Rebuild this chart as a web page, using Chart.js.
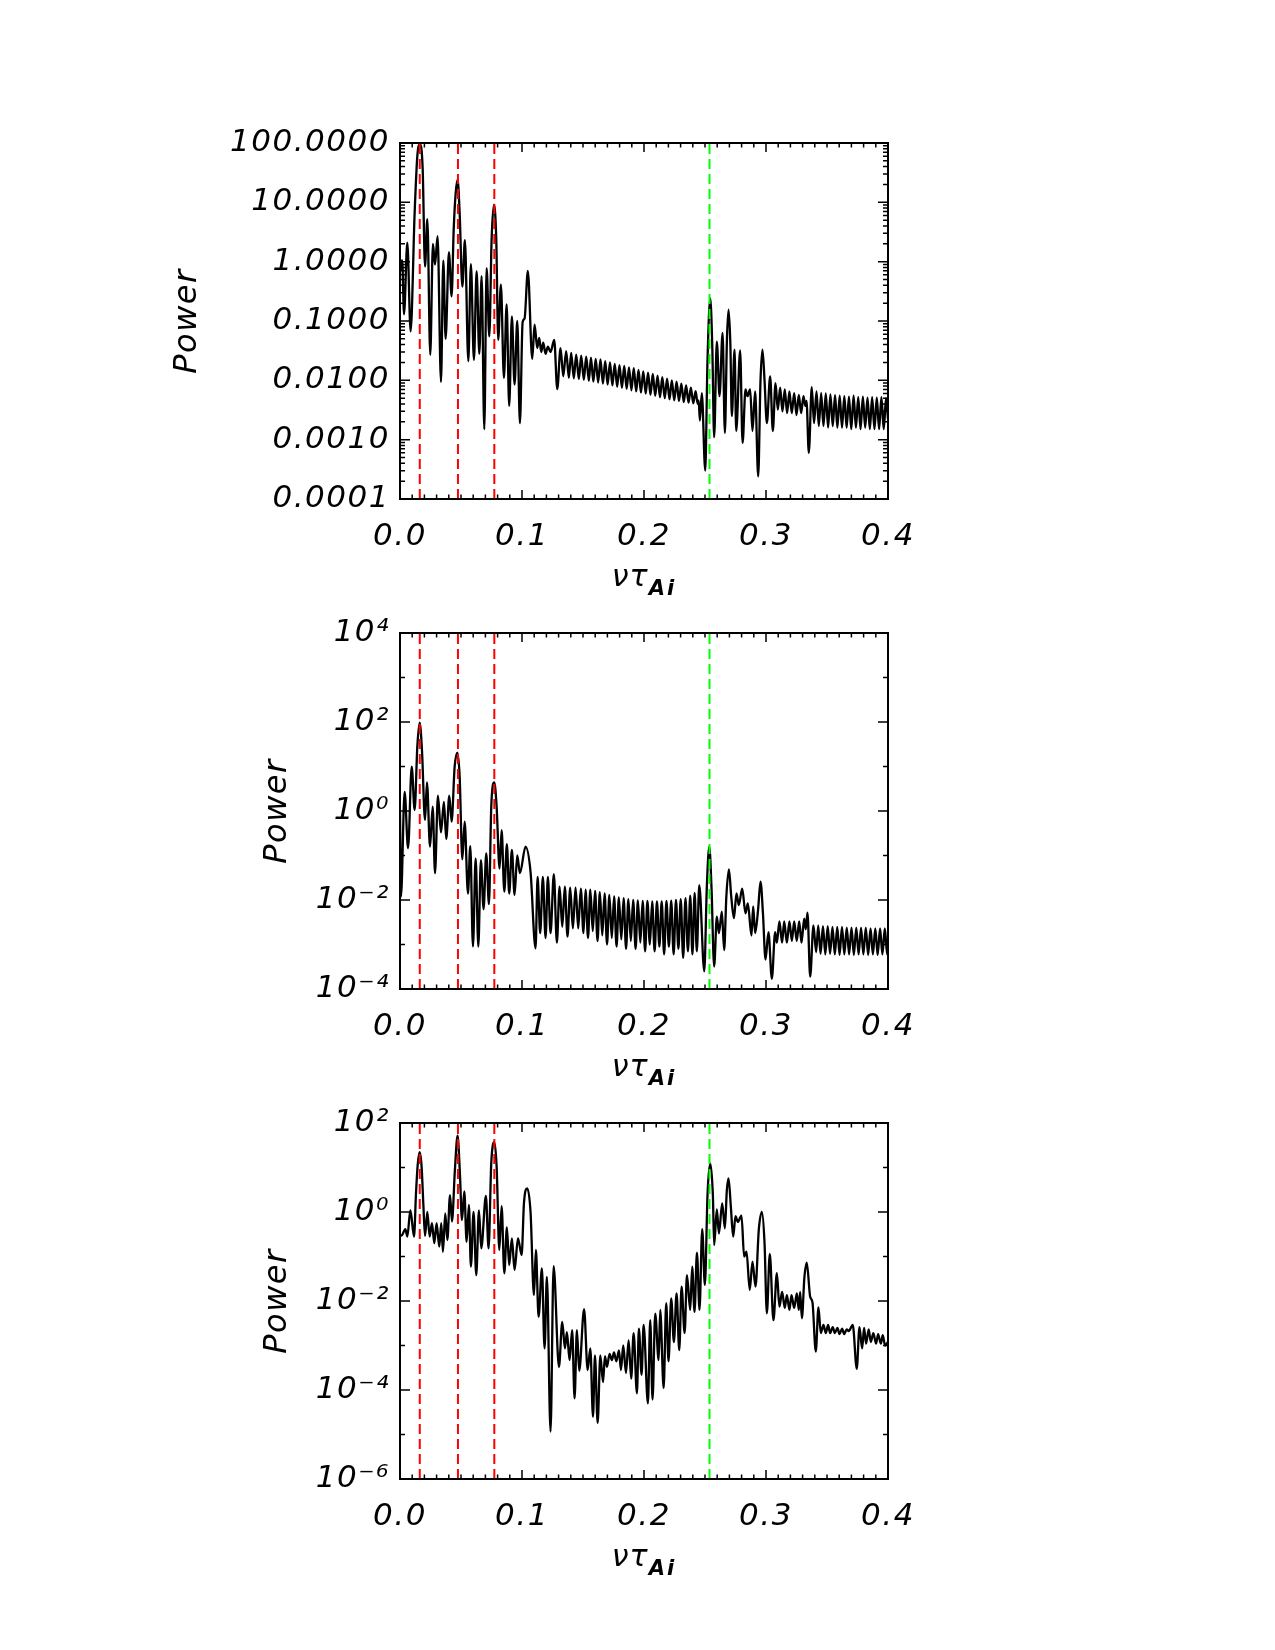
<!DOCTYPE html>
<html>
<head>
<meta charset="utf-8">
<title>Power spectra</title>
<script src="https://cdn.jsdelivr.net/npm/chart.js@4.4.1/dist/chart.umd.min.js"></script>
<style>
  body { margin: 0; background: #fff; }
  #page { position: relative; width: 1275px; height: 1650px; }
  canvas { position: absolute; left: 0; }
  .xlab { position: absolute; left: 544px; width: 200px; text-align: center;
          font: italic 30px 'DejaVu Sans'; letter-spacing: 1px; line-height: 30px; color: #000; }
  .xlab sub { font-size: 21px; font-weight: bold; vertical-align: -9px; letter-spacing: 2px; }
</style>
</head>
<body>
<div id="page">
  <canvas id="panel1" width="1275" height="470" style="top:100px"></canvas>
  <canvas id="panel2" width="1275" height="470" style="top:590px"></canvas>
  <canvas id="panel3" width="1275" height="470" style="top:1080px"></canvas>
  <div class="xlab" style="top:561px">ντ<sub>Ai</sub></div>
  <div class="xlab" style="top:1051px">ντ<sub>Ai</sub></div>
  <div class="xlab" style="top:1541px">ντ<sub>Ai</sub></div>
</div>
<script>
// x axis labels and marker frequencies
const freqLabels = ['0.0', '0.1', '0.2', '0.3', '0.4'];
const redLines = [0.0162, 0.0475, 0.0773];
const greenLine = 0.2537;

// decades shown on each power axis (exponents of ten)
const p1Decades = [-4, -3, -2, -1, 0, 1, 2];
const p2Decades = [-4, -3, -2, -1, 0, 1, 2, 3, 4];
const p3Decades = [-6, -5, -4, -3, -2, -1, 0, 1, 2];

// top panel
const p1Freq = [
  0.0000, 0.0011, 0.0018, 0.0033, 0.0060, 0.0087, 0.0120, 0.0142, 0.0164, 0.0186,
  0.0205, 0.0224, 0.0248, 0.0270, 0.0287, 0.0308, 0.0336, 0.0355, 0.0374, 0.0401,
  0.0423, 0.0440, 0.0456, 0.0472, 0.0489, 0.0511, 0.0532, 0.0560, 0.0581, 0.0606,
  0.0628, 0.0650, 0.0669, 0.0691, 0.0710, 0.0732, 0.0751, 0.0770, 0.0789, 0.0805,
  0.0827, 0.0852, 0.0874, 0.0895, 0.0917, 0.0939, 0.0961, 0.0983, 0.1005, 0.1021,
  0.1048, 0.1084, 0.1103, 0.1125, 0.1141, 0.1158, 0.1174, 0.1193, 0.1212, 0.1234,
  0.1264, 0.1289, 0.1316, 0.1338, 0.1362, 0.1384, 0.1403, 0.1425, 0.1444, 0.1466,
  0.1485, 0.1507, 0.1526, 0.1548, 0.1565, 0.1585, 0.1604, 0.1624, 0.1643, 0.1663,
  0.1682, 0.1702, 0.1721, 0.1741, 0.1760, 0.1780, 0.1799, 0.1819, 0.1838, 0.1858,
  0.1877, 0.1897, 0.1916, 0.1936, 0.1955, 0.1975, 0.1994, 0.2014, 0.2033, 0.2053,
  0.2072, 0.2092, 0.2111, 0.2131, 0.2150, 0.2170, 0.2189, 0.2209, 0.2228, 0.2248,
  0.2267, 0.2287, 0.2306, 0.2326, 0.2345, 0.2365, 0.2384, 0.2404, 0.2423, 0.2440,
  0.2448, 0.2458, 0.2474, 0.2502, 0.2520, 0.2543, 0.2560, 0.2575, 0.2597, 0.2619,
  0.2644, 0.2663, 0.2680, 0.2693, 0.2708, 0.2720, 0.2742, 0.2756, 0.2788, 0.2808,
  0.2832, 0.2848, 0.2870, 0.2889, 0.2911, 0.2936, 0.2955, 0.2971, 0.2988, 0.3007,
  0.3034, 0.3056, 0.3078, 0.3097, 0.3116, 0.3135, 0.3154, 0.3173, 0.3192, 0.3211,
  0.3231, 0.3250, 0.3269, 0.3288, 0.3307, 0.3323, 0.3332, 0.3351, 0.3375, 0.3394,
  0.3414, 0.3433, 0.3452, 0.3471, 0.3490, 0.3509, 0.3528, 0.3547, 0.3566, 0.3585,
  0.3604, 0.3623, 0.3642, 0.3661, 0.3680, 0.3699, 0.3718, 0.3737, 0.3756, 0.3775,
  0.3794, 0.3813, 0.3832, 0.3851, 0.3870, 0.3889, 0.3908, 0.3927, 0.3946, 0.3965,
  0.3984, 0.4000
];
const p1Power = [
  1.1, 0.75, 1.05, 0.13, 2.1, 0.067, 6.6, 60, 95, 36,
  0.83, 5.2, 0.027, 2.0, 0.89, 2.7, 0.0094, 1.04, 0.050, 1.44,
  0.26, 3.4, 14, 24, 6.6, 0.38, 2.3, 0.021, 0.91, 0.022,
  0.69, 0.028, 0.57, 0.0015, 0.78, 0.055, 2.4, 9.1, 2.4, 0.048,
  0.41, 0.011, 0.19, 0.0037, 0.12, 0.0085, 0.10, 0.0019, 0.095, 0.11,
  0.70, 0.023, 0.087, 0.035, 0.052, 0.030, 0.043, 0.028, 0.037, 0.030,
  0.048, 0.0071, 0.035, 0.0117, 0.031, 0.011, 0.029, 0.0108, 0.027, 0.0105,
  0.026, 0.0102, 0.025, 0.0098, 0.024, 0.0095, 0.023, 0.0092, 0.0225, 0.0088,
  0.021, 0.0085, 0.020, 0.0082, 0.019, 0.0078, 0.018, 0.0075, 0.0175, 0.0072,
  0.0165, 0.0068, 0.016, 0.0065, 0.015, 0.0062, 0.0142, 0.0060, 0.0135, 0.0057,
  0.0128, 0.0055, 0.012, 0.0052, 0.0113, 0.0050, 0.0107, 0.0048, 0.010, 0.0046,
  0.0095, 0.0045, 0.0088, 0.0043, 0.0082, 0.0042, 0.0075, 0.0041, 0.0066, 0.0040,
  0.0046, 0.0021, 0.0061, 0.0003, 0.02, 0.24, 0.035, 0.0011, 0.045, 0.0054,
  0.063, 0.0013, 0.05, 0.155, 0.04, 0.0025, 0.033, 0.0014, 0.032, 0.00088,
  0.0070, 0.0054, 0.0070, 0.0014, 0.0065, 0.00024, 0.010, 0.033, 0.010, 0.0019,
  0.0117, 0.0014, 0.009, 0.0032, 0.0075, 0.0030, 0.0070, 0.0028, 0.0065, 0.0028,
  0.0061, 0.0026, 0.0057, 0.0028, 0.0054, 0.0037, 0.0045, 0.0006, 0.0077, 0.0019,
  0.0065, 0.0017, 0.0061, 0.0017, 0.0060, 0.0016, 0.0058, 0.0017, 0.0056, 0.0016,
  0.0055, 0.0016, 0.0054, 0.0016, 0.0053, 0.0015, 0.0055, 0.0016, 0.0052, 0.0015,
  0.0053, 0.0016, 0.0051, 0.0015, 0.0052, 0.0015, 0.0051, 0.0015, 0.0052, 0.0015,
  0.0050, 0.0022
];

// middle panel
const p2Freq = [
  0.0000, 0.0008, 0.0038, 0.0066, 0.0096, 0.0120, 0.0142, 0.0161, 0.0180, 0.0205,
  0.0221, 0.0246, 0.0268, 0.0287, 0.0311, 0.0336, 0.0360, 0.0379, 0.0404, 0.0423,
  0.0448, 0.0470, 0.0489, 0.0511, 0.0530, 0.0557, 0.0576, 0.0598, 0.0620, 0.0642,
  0.0663, 0.0685, 0.0707, 0.0729, 0.0748, 0.0773, 0.0792, 0.0816, 0.0833, 0.0855,
  0.0876, 0.0895, 0.0917, 0.0939, 0.0961, 0.0983, 0.1029, 0.1070, 0.1111, 0.1128,
  0.1149, 0.1171, 0.1193, 0.1212, 0.1234, 0.1261, 0.1286, 0.1308, 0.1330, 0.1351,
  0.1373, 0.1395, 0.1417, 0.1439, 0.1461, 0.1482, 0.1504, 0.1521, 0.1541, 0.1560,
  0.1580, 0.1599, 0.1619, 0.1638, 0.1658, 0.1677, 0.1697, 0.1716, 0.1736, 0.1755,
  0.1775, 0.1794, 0.1814, 0.1833, 0.1853, 0.1872, 0.1892, 0.1911, 0.1931, 0.1950,
  0.1970, 0.1989, 0.2009, 0.2028, 0.2048, 0.2067, 0.2087, 0.2106, 0.2126, 0.2145,
  0.2165, 0.2184, 0.2204, 0.2223, 0.2243, 0.2262, 0.2282, 0.2301, 0.2321, 0.2340,
  0.2360, 0.2379, 0.2397, 0.2415, 0.2433, 0.2453, 0.2494, 0.2515, 0.2535, 0.2553,
  0.2575, 0.2597, 0.2614, 0.2638, 0.2657, 0.2675, 0.2696, 0.2715, 0.2737, 0.2758,
  0.2777, 0.2805, 0.2832, 0.2851, 0.2881, 0.2895, 0.2911, 0.2935, 0.2955, 0.2975,
  0.2996, 0.3020, 0.3048, 0.3075, 0.3089, 0.3110, 0.3132, 0.3149, 0.3171, 0.3192,
  0.3212, 0.3231, 0.3252, 0.3272, 0.3291, 0.3313, 0.3326, 0.3340, 0.3362, 0.3389,
  0.3411, 0.3428, 0.3447, 0.3467, 0.3486, 0.3506, 0.3525, 0.3545, 0.3564, 0.3584,
  0.3603, 0.3623, 0.3642, 0.3662, 0.3681, 0.3701, 0.3720, 0.3740, 0.3759, 0.3779,
  0.3798, 0.3818, 0.3837, 0.3857, 0.3876, 0.3896, 0.3915, 0.3935, 0.3954, 0.3974,
  0.3993, 0.4000
];
const p2Power = [
  1.0, 0.012, 2.7, 0.145, 9.9, 1.05, 28, 97, 23.5, 0.63,
  4.4, 0.158, 1.25, 0.040, 2.2, 0.33, 1.6, 0.235, 2.2, 0.575,
  9.9, 20.5, 5.9, 0.082, 0.575, 0.014, 0.163, 0.0009, 0.086, 0.0009,
  0.079, 0.0062, 0.112, 0.0081, 1.25, 4.4, 1.25, 0.051, 0.37, 0.0154,
  0.18, 0.014, 0.133, 0.013, 0.10, 0.040, 0.158, 0.043, 0.00082, 0.033,
  0.0018, 0.033, 0.0014, 0.033, 0.0018, 0.038, 0.0011, 0.020, 0.0025, 0.020,
  0.0015, 0.019, 0.0023, 0.019, 0.0023, 0.018, 0.0018, 0.017, 0.0014, 0.017,
  0.0020, 0.016, 0.0012, 0.015, 0.0016, 0.014, 0.0010, 0.013, 0.0014, 0.012,
  0.0009, 0.0115, 0.0013, 0.011, 0.0008, 0.0105, 0.0012, 0.010, 0.0008, 0.0098,
  0.0011, 0.0095, 0.0007, 0.0095, 0.0010, 0.0093, 0.0007, 0.0093, 0.0009, 0.0093,
  0.0006, 0.0095, 0.0009, 0.0097, 0.0006, 0.010, 0.0008, 0.0105, 0.0005, 0.011,
  0.0007, 0.0125, 0.0006, 0.0145, 0.0007, 0.0215, 0.00025, 0.020, 0.158, 0.020,
  0.00032, 0.0042, 0.0018, 0.0055, 0.00075, 0.012, 0.049, 0.012, 0.0039, 0.014,
  0.0077, 0.018, 0.005, 0.0084, 0.0016, 0.0072, 0.0018, 0.006, 0.026, 0.005,
  0.00046, 0.0019, 0.00017, 0.0019, 0.0011, 0.0033, 0.0011, 0.0033, 0.0011, 0.0033,
  0.0012, 0.0033, 0.0012, 0.0033, 0.0011, 0.0038, 0.0022, 0.0052, 0.00019, 0.0027,
  0.00067, 0.0027, 0.00062, 0.0026, 0.0006, 0.0026, 0.00062, 0.0025, 0.0006, 0.0025,
  0.00058, 0.0025, 0.0006, 0.0024, 0.0006, 0.0024, 0.00058, 0.0024, 0.0006, 0.0024,
  0.0006, 0.0024, 0.00058, 0.0023, 0.0006, 0.0023, 0.00058, 0.0023, 0.0006, 0.0023,
  0.0006, 0.0010
];

// bottom panel
const p3Freq = [
  0.0000, 0.0016, 0.0044, 0.0060, 0.0085, 0.0115, 0.0131, 0.0145, 0.0161, 0.0177,
  0.0191, 0.0205, 0.0224, 0.0243, 0.0262, 0.0281, 0.0300, 0.0322, 0.0338, 0.0352,
  0.0371, 0.0388, 0.0410, 0.0426, 0.0450, 0.0472, 0.0491, 0.0508, 0.0527, 0.0546,
  0.0565, 0.0581, 0.0603, 0.0625, 0.0647, 0.0666, 0.0704, 0.0726, 0.0748, 0.0773,
  0.0792, 0.0814, 0.0833, 0.0855, 0.0876, 0.0895, 0.0917, 0.0939, 0.0967, 0.0997,
  0.1016, 0.1043, 0.1070, 0.1098, 0.1114, 0.1136, 0.1163, 0.1185, 0.1204, 0.1234,
  0.1259, 0.1303, 0.1330, 0.1352, 0.1368, 0.1390, 0.1411, 0.1431, 0.1450, 0.1469,
  0.1509, 0.1538, 0.1560, 0.1582, 0.1598, 0.1620, 0.1642, 0.1664, 0.1680, 0.1696,
  0.1718, 0.1737, 0.1754, 0.1773, 0.1795, 0.1811, 0.1830, 0.1852, 0.1874, 0.1895,
  0.1915, 0.1942, 0.1958, 0.1980, 0.1997, 0.2032, 0.2051, 0.2070, 0.2092, 0.2120,
  0.2133, 0.2161, 0.2182, 0.2201, 0.2223, 0.2245, 0.2267, 0.2289, 0.2308, 0.2333,
  0.2352, 0.2379, 0.2395, 0.2414, 0.2434, 0.2455, 0.2477, 0.2499, 0.2521, 0.2543,
  0.2565, 0.2575, 0.2597, 0.2614, 0.2641, 0.2663, 0.2679, 0.2693, 0.2712, 0.2731,
  0.2750, 0.2769, 0.2799, 0.2821, 0.2840, 0.2867, 0.2889, 0.2914, 0.2941, 0.2966,
  0.2988, 0.3007, 0.3031, 0.3061, 0.3089, 0.3110, 0.3132, 0.3154, 0.3171, 0.3192,
  0.3209, 0.3231, 0.3253, 0.3269, 0.3280, 0.3294, 0.3315, 0.3334, 0.3362, 0.3381,
  0.3408, 0.3430, 0.3449, 0.3471, 0.3490, 0.3509, 0.3525, 0.3547, 0.3564, 0.3586,
  0.3602, 0.3624, 0.3640, 0.3662, 0.3678, 0.3711, 0.3744, 0.3766, 0.3788, 0.3804,
  0.3820, 0.3842, 0.3859, 0.3880, 0.3902, 0.3919, 0.3941, 0.3957, 0.3976, 0.4000
];
const p3Power = [
  0.29, 0.30, 0.41, 0.28, 1.1, 0.28, 2.6, 11.4, 22, 10.5,
  1.57, 0.29, 1.0, 0.28, 0.56, 0.20, 0.56, 0.166, 0.56, 0.128,
  0.93, 0.235, 2.4, 0.61, 8.8, 52, 7.4, 0.66, 2.9, 0.215,
  1.44, 0.059, 1.0, 0.038, 1.08, 0.153, 2.3, 0.153, 12.4, 37,
  10.5, 0.14, 1.36, 0.042, 0.45, 0.064, 0.256, 0.050, 0.256, 0.108,
  1.57, 3.4, 1.0, 0.0136, 0.14, 0.0044, 0.054, 0.00086, 0.035, 0.0000116,
  0.061, 0.00033, 0.0034, 0.00086, 0.0020, 0.00047, 0.0022, 0.000065, 0.0022, 0.00027,
  0.0066, 0.00028, 0.00086, 0.000025, 0.0006, 0.000018, 0.0006, 0.00015, 0.00058, 0.00033,
  0.00065, 0.00047, 0.0007, 0.00044, 0.00078, 0.00028, 0.001, 0.00024, 0.0013, 0.00018,
  0.0019, 0.000084, 0.0024, 0.00022, 0.0029, 0.00005, 0.0037, 0.000061, 0.0052, 0.00047,
  0.0063, 0.00011, 0.0089, 0.00044, 0.0115, 0.0012, 0.0149, 0.00079, 0.021, 0.0019,
  0.038, 0.0063, 0.059, 0.0057, 0.122, 0.0063, 0.41, 0.023, 2.6, 12.4,
  2.2, 0.18, 1.15, 0.33, 1.57, 0.43, 3.1, 5.7, 1.3, 0.28,
  0.81, 0.6, 0.83, 0.099, 0.128, 0.0177, 0.077, 0.021, 0.4, 1.0,
  0.2, 0.0053, 0.114, 0.0037, 0.042, 0.0075, 0.016, 0.0070, 0.0136, 0.0063,
  0.0136, 0.0070, 0.0149, 0.0063, 0.016, 0.0041, 0.035, 0.073, 0.0125, 0.0093,
  0.00073, 0.0072, 0.0019, 0.0029, 0.0019, 0.0029, 0.0019, 0.0026, 0.0019, 0.0025,
  0.0018, 0.0024, 0.0018, 0.0023, 0.0021, 0.0029, 0.0003, 0.0026, 0.00086, 0.0025,
  0.0011, 0.0023, 0.0012, 0.0019, 0.0011, 0.0018, 0.0011, 0.0017, 0.0010, 0.0012
];

const supDigits = {'-': '\u207B', '0': '\u2070', '1': '\u00B9', '2': '\u00B2', '3': '\u00B3',
  '4': '\u2074', '5': '\u2075', '6': '\u2076', '7': '\u2077', '8': '\u2078', '9': '\u2079'};

function powerLabel(exp) {
  return '10' + String(exp).split('').map(c => supDigits[c]).join('');
}

// ticks for a log axis: every decade, optionally 2..9 in between
function logTicks(decades, withMinor, majorTest) {
  const ticks = [];
  decades.forEach((e, i) => {
    ticks.push({value: Number('1e' + e), major: majorTest(e), exp: e});
    if (withMinor && i < decades.length - 1) {
      for (let m = 2; m <= 9; m++) ticks.push({value: Number(m + 'e' + e), major: false});
    }
  });
  return ticks;
}

function freqTicks() {
  const ticks = [];
  for (let i = 0; i <= 40; i++) ticks.push({value: i / 100, major: i % 10 === 0});
  return ticks;
}

// IDL-style frame: box plus inward ticks on all four sides
const idlFrame = {
  id: 'idlFrame',
  beforeDraw(chart) {
    chart.ctx.letterSpacing = '1.5px';
  },
  afterDatasetsDraw(chart) {
    const {ctx, chartArea: a, scales: {x, y}} = chart;
    ctx.save();
    ctx.strokeStyle = '#000';
    ctx.lineWidth = 2;
    ctx.strokeRect(a.left, a.top, a.right - a.left, a.bottom - a.top);
    ctx.lineWidth = 1.5;
    ctx.beginPath();
    x.ticks.forEach(t => {
      const px = x.getPixelForValue(t.value);
      const len = t.major ? 9 : 4.5;
      ctx.moveTo(px, a.bottom); ctx.lineTo(px, a.bottom - len);
      ctx.moveTo(px, a.top); ctx.lineTo(px, a.top + len);
    });
    y.ticks.forEach(t => {
      const py = y.getPixelForValue(t.value);
      const len = t.major ? 10 : 5;
      ctx.moveTo(a.left, py); ctx.lineTo(a.left + len, py);
      ctx.moveTo(a.right, py); ctx.lineTo(a.right - len, py);
    });
    ctx.stroke();
    ctx.restore();
  }
};

const tickFont = {family: 'DejaVu Sans', size: 31, style: 'italic'};

function markerLine(x, color, yMin, yMax) {
  return {
    data: [{x: x, y: yMin}, {x: x, y: yMax}],
    borderColor: color,
    borderWidth: 2,
    borderDash: [10, 5],
    pointRadius: 0,
    order: 0
  };
}

function makePanel(id, freq, power, decades, withMinor, majorTest, labelFn, titlePad) {
  const yMin = Number('1e' + decades[0]);
  const yMax = Number('1e' + decades[decades.length - 1]);
  const datasets = redLines.map(f => markerLine(f, '#ff0000', yMin, yMax));
  datasets.push(markerLine(greenLine, '#00ff00', yMin, yMax));
  datasets.push({
    data: freq.map((f, i) => ({x: f, y: power[i]})),
    borderColor: '#000',
    borderWidth: 2.3,
    pointRadius: 0,
    cubicInterpolationMode: 'monotone',
    order: 1
  });

  return new Chart(document.getElementById(id), {
    type: 'line',
    data: {datasets},
    options: {
      responsive: false,
      animation: false,
      devicePixelRatio: 1,
      layout: {padding: {left: 0, right: 387, top: 43, bottom: 11}},
      plugins: {legend: {display: false}, tooltip: {enabled: false}},
      scales: {
        x: {
          type: 'linear',
          min: 0,
          max: 0.4,
          grid: {display: false, drawTicks: false},
          border: {display: false},
          afterBuildTicks: s => { s.ticks = freqTicks(); },
          afterFit: s => { s.height = 60; },
          ticks: {
            autoSkip: false,
            maxRotation: 0,
            padding: 19,
            color: '#000',
            font: tickFont,
            callback: (v, i, ticks) => ticks[i].major ? freqLabels[Math.round(v * 10)] : ''
          }
        },
        y: {
          type: 'logarithmic',
          min: yMin,
          max: yMax,
          grid: {display: false, drawTicks: false},
          border: {display: false},
          afterBuildTicks: s => { s.ticks = logTicks(decades, withMinor, majorTest); },
          afterFit: s => { s.width = 400; },
          ticks: {
            autoSkip: false,
            padding: 10,
            color: '#000',
            font: tickFont,
            callback: (v, i, ticks) => labelFn(ticks[i])
          },
          title: {
            display: true,
            text: 'Power',
            color: '#000',
            font: {family: 'DejaVu Sans', size: 32, style: 'italic'},
            padding: {top: titlePad, bottom: 0}
          }
        }
      }
    },
    plugins: [idlFrame]
  });
}

makePanel('panel1', p1Freq, p1Power, p1Decades, true, () => true,
  t => t.exp !== undefined ? t.value.toFixed(4) : '', 168);
makePanel('panel2', p2Freq, p2Power, p2Decades, false, e => e % 2 === 0,
  t => t.exp % 2 === 0 ? powerLabel(t.exp) : '', 258);
makePanel('panel3', p3Freq, p3Power, p3Decades, false, e => e % 2 === 0,
  t => t.exp % 2 === 0 ? powerLabel(t.exp) : '', 258);
</script>
</body>
</html>
